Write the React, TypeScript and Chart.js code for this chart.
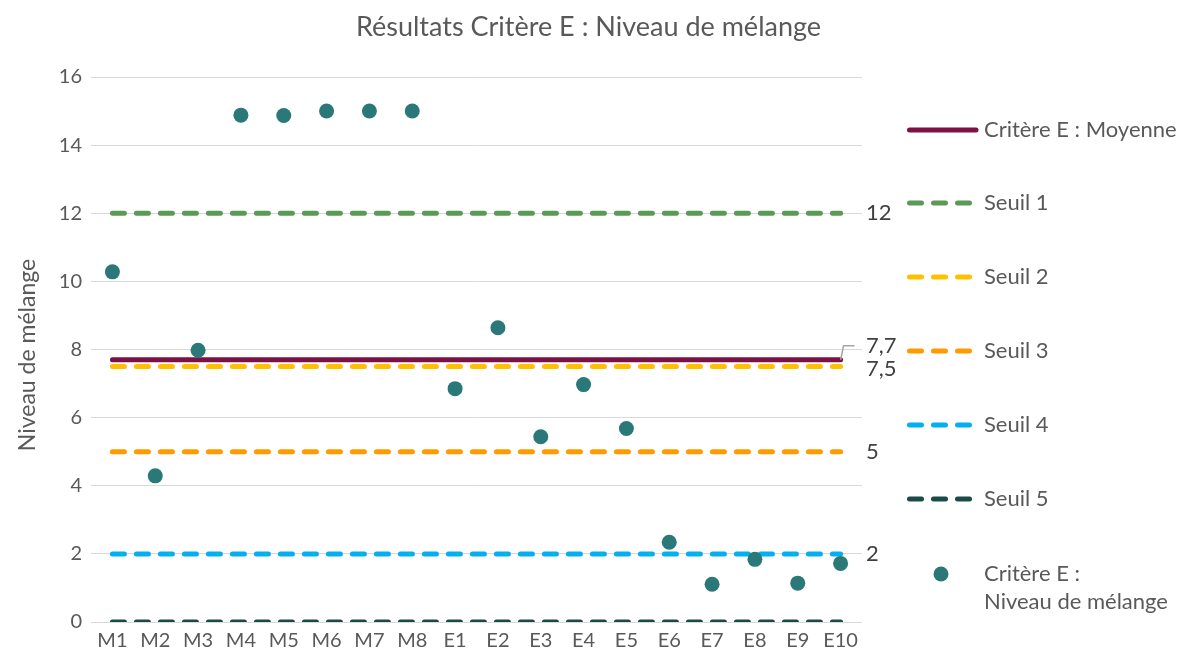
import React, { useEffect, useRef } from "react";
import { Chart, registerables } from "chart.js";

Chart.register(...registerables);

const categories = ["M1", "M2", "M3", "M4", "M5", "M6", "M7", "M8", "E1", "E2", "E3", "E4", "E5", "E6", "E7", "E8", "E9", "E10"];
const niveauMelange = [10.28, 4.29, 7.98, 14.88, 14.87, 15.0, 15.0, 15.0, 6.85, 8.64, 5.44, 6.97, 5.68, 2.34, 1.11, 1.84, 1.14, 1.72];
const moyenne = [7.7, 7.7, 7.7, 7.7, 7.7, 7.7, 7.7, 7.7, 7.7, 7.7, 7.7, 7.7, 7.7, 7.7, 7.7, 7.7, 7.7, 7.7];
const seuil1 = [12, 12, 12, 12, 12, 12, 12, 12, 12, 12, 12, 12, 12, 12, 12, 12, 12, 12];
const seuil2 = [7.5, 7.5, 7.5, 7.5, 7.5, 7.5, 7.5, 7.5, 7.5, 7.5, 7.5, 7.5, 7.5, 7.5, 7.5, 7.5, 7.5, 7.5];
const seuil3 = [5, 5, 5, 5, 5, 5, 5, 5, 5, 5, 5, 5, 5, 5, 5, 5, 5, 5];
const seuil4 = [2, 2, 2, 2, 2, 2, 2, 2, 2, 2, 2, 2, 2, 2, 2, 2, 2, 2];
const seuil5 = [0, 0, 0, 0, 0, 0, 0, 0, 0, 0, 0, 0, 0, 0, 0, 0, 0, 0];
const endLabels = ["7,7", "12", "7,5", "5", "2", ""];
const legendLabels = ["Critère E : Moyenne", "Seuil 1", "Seuil 2", "Seuil 3", "Seuil 4", "Seuil 5", ["Critère E :", "Niveau de mélange"]];
const chartTitle = "Résultats Critère E : Niveau de mélange";
const yTitle = "Niveau de mélange";

const FONT = "Lato, 'Noto Sans', sans-serif";
const TEXT = "#595959";

const overlayPlugin = {
  id: "overlay",
  afterDraw(chart: any) {
    const ctx = chart.ctx as CanvasRenderingContext2D;
    const ca = chart.chartArea;
    ctx.save();
    // title
    ctx.fillStyle = TEXT;
    ctx.font = `27px ${FONT}`;
    ctx.textAlign = "center";
    ctx.textBaseline = "middle";
    ctx.fillText(chartTitle, chart.width / 2 - 1, 27);
    // y-axis title
    ctx.save();
    ctx.translate(28, 355);
    ctx.rotate(-Math.PI / 2);
    ctx.font = `23px ${FONT}`;
    ctx.fillText(yTitle, 0, 0);
    ctx.restore();

    // end labels
    ctx.font = `22px ${FONT}`;
    ctx.textAlign = "left";
    ctx.fillStyle = "#404040";
    for (let i = 0; i < 6; i++) {
      const lbl = endLabels[i];
      if (!lbl) continue;
      const meta = chart.getDatasetMeta(i);
      const pt = meta.data[meta.data.length - 1];
      if (!pt) continue;
      let y = pt.y;
      if (i === 0) {
        y = pt.y - 14;
        ctx.strokeStyle = "#A6A6A6";
        ctx.lineWidth = 1.5;
        ctx.beginPath();
        ctx.moveTo(pt.x, pt.y);
        ctx.lineTo(pt.x + 3, y);
        ctx.lineTo(pt.x + 14, y);
        ctx.stroke();
      } else if (i === 2) {
        y = pt.y + 2;
      }
      ctx.fillText(lbl, ca.right + 4, y);
    }

    // legend
    const rows = [130, 203, 277, 351, 425, 499, 574];
    const x0 = 907;
    const textX = 984;
    for (let i = 0; i < 7; i++) {
      const ds = chart.data.datasets[i];
      const y = rows[i];
      if (i < 6) {
        ctx.strokeStyle = ds.borderColor;
        ctx.lineWidth = 5;
        ctx.lineCap = "round";
        ctx.setLineDash(i === 0 ? [] : [12, 12]);
        ctx.beginPath();
        ctx.moveTo(x0 + 2.5, y);
        ctx.lineTo(i === 0 ? 976 : 970, y);
        ctx.stroke();
        ctx.setLineDash([]);
      } else {
        ctx.fillStyle = ds.backgroundColor;
        ctx.beginPath();
        ctx.arc(941, y, 7.5, 0, Math.PI * 2);
        ctx.fill();
      }
      ctx.fillStyle = TEXT;
      ctx.font = `22px ${FONT}`;
      const lbl = legendLabels[i];
      if (Array.isArray(lbl)) {
        lbl.forEach((l, k) => ctx.fillText(l, textX, y + k * 28));
      } else {
        ctx.fillText(lbl, textX, y);
      }
    }
    ctx.restore();
  },
};

export default function App() {
  const ref = useRef<HTMLCanvasElement | null>(null);
  useEffect(() => {
    document.body.style.margin = "0";
    if (!ref.current) return;
    const lineDs = (label: string, data: number[], color: string, dashed: boolean) => ({
      type: "line" as const,
      label,
      data,
      borderColor: color,
      backgroundColor: color,
      borderWidth: 5,
      borderDash: dashed ? [12, 12] : [],
      borderCapStyle: "round" as const,
      pointRadius: 0,
      pointHoverRadius: 0,
      fill: false,
      order: 1,
    });
    const chart = new Chart(ref.current, {
      type: "line",
      data: {
        labels: categories,
        datasets: [
          lineDs("Critère E : Moyenne", moyenne, "#7E1143", false),
          lineDs("Seuil 1", seuil1, "#5A9A55", true),
          lineDs("Seuil 2", seuil2, "#FFC000", true),
          lineDs("Seuil 3", seuil3, "#FF9A00", true),
          lineDs("Seuil 4", seuil4, "#00B0F0", true),
          lineDs("Seuil 5", seuil5, "#1B4B48", true),
          {
            type: "line" as const,
            label: "Critère E : Niveau de mélange",
            data: niveauMelange,
            showLine: false,
            borderColor: "#2A7878",
            backgroundColor: "#2A7878",
            pointRadius: 7.5,
            pointBorderWidth: 0,
            pointHoverRadius: 7.5,
            order: 0,
          },
        ],
      },
      options: {
        animation: false,
        responsive: false,
        maintainAspectRatio: false,
        layout: { padding: { top: 77, right: 317, left: 0, bottom: 0 } },
        plugins: {
          legend: { display: false },
          title: { display: false },
          tooltip: { enabled: false },
        },
        scales: {
          x: {
            type: "category",
            offset: true,
            grid: { display: false, drawTicks: false },
            border: { display: false },
            ticks: { font: { family: FONT, size: 20 }, color: TEXT, padding: 7, maxRotation: 0, autoSkip: false },
            afterFit: (s: any) => { s.height = 40; },
          },
          y: {
            min: 0,
            max: 16,
            ticks: { stepSize: 2, font: { family: FONT, size: 20 }, color: TEXT, padding: 9 },
            grid: { color: "#D9D9D9", lineWidth: 1, drawTicks: false },
            border: { display: false },
            afterFit: (s: any) => { s.width = 91; },
          },
        },
      },
      plugins: [overlayPlugin],
    });
    return () => chart.destroy();
  }, []);
  return (
    <div style={{ width: 1179, height: 662 }}>
      <canvas ref={ref} width={1179} height={662} style={{ display: "block" }} />
    </div>
  );
}
